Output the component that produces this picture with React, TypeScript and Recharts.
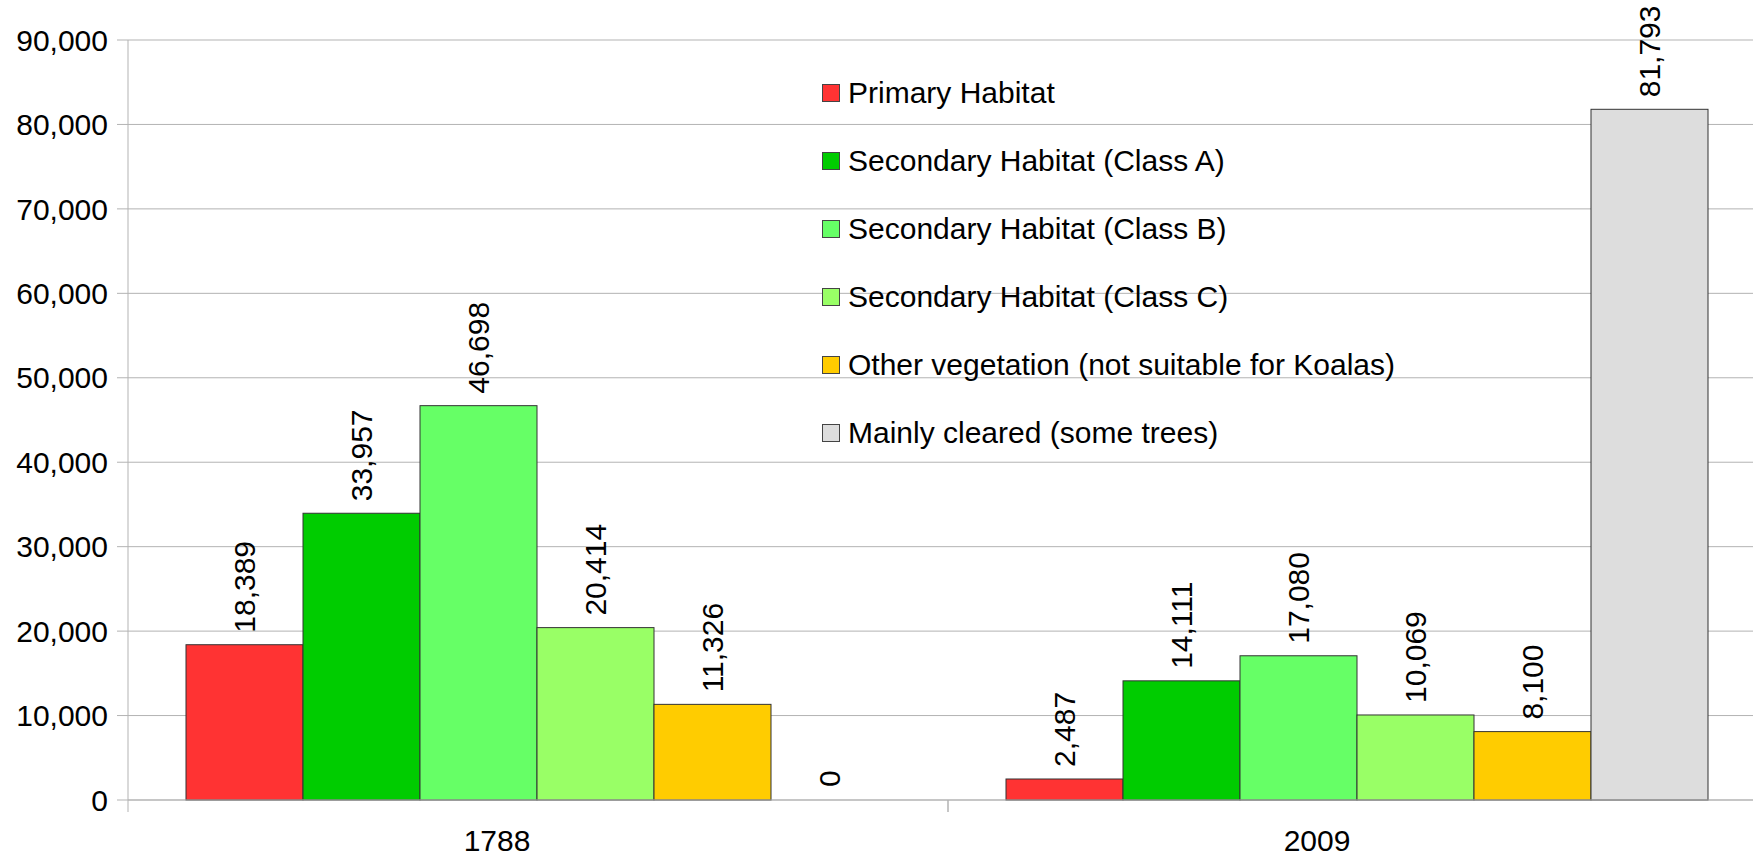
import { BarChart, Bar, XAxis, YAxis, CartesianGrid } from 'recharts';

const YEARS = ['1788', '2009'];
const SERIES_NAMES = [
  'Primary Habitat',
  'Secondary Habitat (Class A)',
  'Secondary Habitat (Class B)',
  'Secondary Habitat (Class C)',
  'Other vegetation (not suitable for Koalas)',
  'Mainly cleared (some trees)'
];
const SERIES_COLORS = ['#ff3333', '#00cc00', '#66ff66', '#99ff66', '#ffcc00', '#dddddd'];
const VALUES_1788 = [18389, 33957, 46698, 20414, 11326, 0];
const VALUES_2009 = [2487, 14111, 17080, 10069, 8100, 81793];
const Y_TICKS = [0, 10000, 20000, 30000, 40000, 50000, 60000, 70000, 80000, 90000];

const FONT = '"Liberation Sans", Arial, sans-serif';
const FS = 30;
const CHART_W = 1790;
const CHART_H = 858;
const AXIS_W = 128;
const X_AXIS_H = 58;
const MARGIN = { top: 40, right: 22, bottom: 0, left: 0 };
const HALF_BAND = (CHART_W - AXIS_W - MARGIN.right) / YEARS.length / 2;

const rows = [VALUES_1788, VALUES_2009];
const data = YEARS.map((year, i) => {
  const row: Record<string, string | number> = { year };
  rows[i].forEach((v, j) => {
    row[`s${j}`] = v;
  });
  return row;
});

const fmt = (v: number) => v.toLocaleString('en-US');

// zero-height bars draw nothing, but keep a 1px box so the label still shows
function BarShape(props: any) {
  const { x, y, width, height, fill, value } = props;
  const v = Array.isArray(value) ? value[1] - value[0] : value;
  if (!v) return <g />;
  return <rect x={x} y={y} width={width} height={height} fill={fill} stroke="#333" strokeWidth={1} />;
}

function BarLabel(props: any) {
  const { x, y, width, height, value } = props;
  const cx = Number(x) + Number(width) / 2;
  const top = Math.min(Number(y), Number(y) + Number(height || 0)) - 12;
  return (
    <text
      x={cx}
      y={top}
      transform={`rotate(-90, ${cx}, ${top})`}
      textAnchor="start"
      dominantBaseline="central"
      fontSize={FS}
      fontFamily={FONT}
      fill="#000"
    >
      {fmt(Number(value))}
    </text>
  );
}

function YearTick(props: any) {
  const { x, y, payload } = props;
  return (
    <g>
      <line x1={x - HALF_BAND} y1={y - 8} x2={x - HALF_BAND} y2={y + 4} stroke="#b3b3b3" />
      <line x1={x + HALF_BAND} y1={y - 8} x2={x + HALF_BAND} y2={y + 4} stroke="#b3b3b3" />
      <text x={x - 41} y={y + 43} textAnchor="middle" fontSize={FS} fontFamily={FONT} fill="#000">
        {payload.value}
      </text>
    </g>
  );
}

function LegendBox() {
  return (
    <div
      style={{
        position: 'absolute',
        left: 822,
        top: 59,
        fontFamily: FONT,
        fontSize: FS,
        color: '#000',
        pointerEvents: 'none'
      }}
    >
      {SERIES_NAMES.map((name, i) => (
        <div key={name} style={{ display: 'flex', alignItems: 'center', height: 68, whiteSpace: 'nowrap' }}>
          <span
            style={{
              display: 'inline-block',
              width: 16,
              height: 16,
              background: SERIES_COLORS[i],
              border: '1px solid #444',
              marginRight: 8
            }}
          />
          <span>{name}</span>
        </div>
      ))}
    </div>
  );
}

export default function App() {
  return (
    <div style={{ position: 'absolute', left: 0, top: 0, width: 1753, height: 858, overflow: 'hidden', background: '#fff' }}>
      <BarChart width={CHART_W} height={CHART_H} data={data} margin={MARGIN} barGap={0} barCategoryGap={58}>
        <CartesianGrid vertical={false} stroke="#b3b3b3" />
        <XAxis
          dataKey="year"
          height={X_AXIS_H}
          axisLine={{ stroke: '#b3b3b3' }}
          tickLine={false}
          tick={<YearTick />}
          interval={0}
        />
        <YAxis
          width={AXIS_W}
          domain={[0, 90000]}
          ticks={Y_TICKS}
          tickFormatter={fmt}
          axisLine={{ stroke: '#b3b3b3' }}
          tickLine={{ stroke: '#b3b3b3' }}
          tickSize={11}
          tickMargin={9}
          tick={{ fontSize: FS, fontFamily: FONT, fill: '#000' }}
        />
        {SERIES_NAMES.map((name, i) => (
          <Bar
            key={name}
            dataKey={`s${i}`}
            name={name}
            fill={SERIES_COLORS[i]}
            minPointSize={1}
            shape={<BarShape />}
            isAnimationActive={false}
            label={<BarLabel />}
          />
        ))}
      </BarChart>
      <LegendBox />
    </div>
  );
}
